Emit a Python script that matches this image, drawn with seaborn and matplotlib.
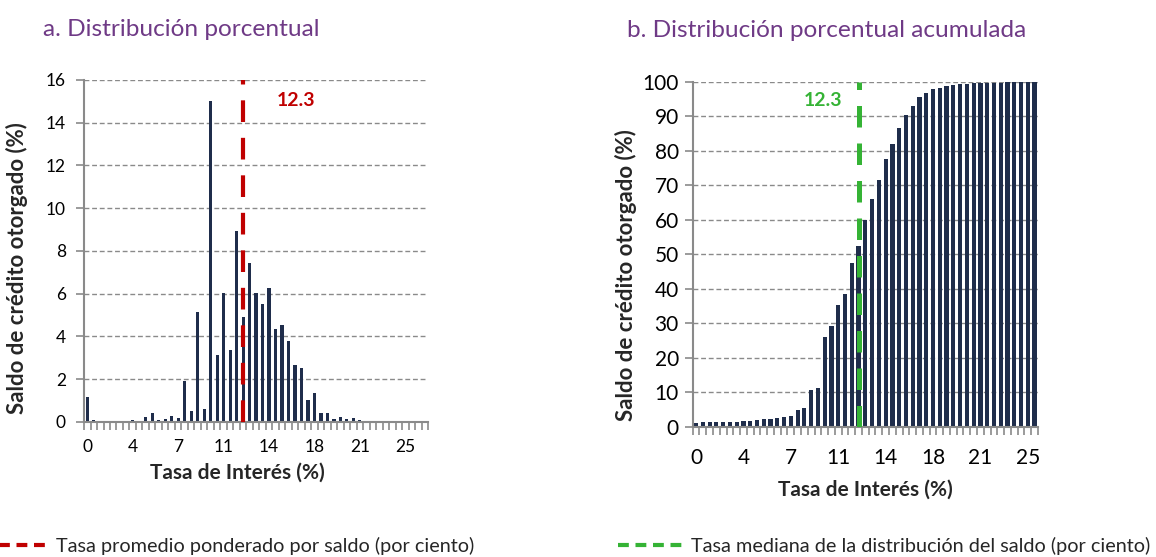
import numpy as np
import pandas as pd
import matplotlib
matplotlib.use("Agg")
import matplotlib.pyplot as plt
from matplotlib.lines import Line2D
import seaborn as sns

# --- data ---
# interest-rate bins (0.5 pp wide)
tasas_a = [0, 0.5, 1, 1.5, 2, 2.5, 3, 3.5, 4, 4.5, 5, 5.5, 6, 6.5, 7, 7.5, 8, 8.5,
           9, 9.5, 10, 10.5, 11, 11.5, 12, 12.5, 13, 13.5, 14, 14.5, 15, 15.5, 16,
           16.5, 17, 17.5, 18, 18.5, 19, 19.5, 20, 20.5, 21, 21.5, 22, 22.5, 23,
           23.5, 24, 24.5, 25, 25.5, 26]
pct_a = [1.15, 0.11, 0.05, 0.03, 0.03, 0.03, 0.05, 0.10, 0.06, 0.25, 0.40, 0.11,
         0.14, 0.28, 0.19, 1.93, 0.50, 5.13, 0.59, 15.00, 3.14, 6.03, 3.36, 8.93,
         4.91, 7.43, 6.02, 5.52, 6.25, 4.37, 4.53, 3.81, 2.67, 2.53, 1.04, 1.35,
         0.40, 0.44, 0.16, 0.25, 0.12, 0.19, 0.08, 0.04, 0.06, 0.02, 0.05, 0.03,
         0.02, 0.01, 0.01, 0.01, 0.01]

tasas_b = tasas_a[:51]
pct_b = [1.15, 1.26, 1.31, 1.34, 1.37, 1.40, 1.45, 1.55, 1.61, 1.86,
         2.26, 2.37, 2.51, 2.79, 2.98, 4.91, 5.41, 10.54, 11.13, 26.1,
         29.3, 35.3, 38.6, 47.6, 52.5, 59.9, 66.0, 71.5, 77.7, 82.1,
         86.6, 90.4, 93.1, 95.6, 96.7, 98.0, 98.4, 98.9, 99.0, 99.3,
         99.4, 99.6, 99.7, 99.7, 99.8, 99.8, 99.9, 99.9, 99.9, 100.0, 100.0]

xtick_labels = ["0", "4", "7", "11", "14", "18", "21", "25"]
tasa_promedio = 12.3
tasa_mediana = 12.3

titulo_a = "a. Distribución porcentual"
titulo_b = "b. Distribución porcentual acumulada"
ylabel = "Saldo de crédito otorgado (%)"
xlabel = "Tasa de Interés (%)"
leyenda_a = "Tasa promedio ponderado por saldo (por ciento)"
leyenda_b = "Tasa mediana de la distribución del saldo (por ciento)"

NAVY = "#1f2d4b"
RED = "#c00000"
GREEN = "#35b335"
PURPLE = "#6f3a86"
GRAY = "#8a8a8a"

sns.set_theme(style="white")
plt.rcParams["font.family"] = ["Lato", "DejaVu Sans"]

fig = plt.figure(figsize=(11.56, 5.57), dpi=100)
ax_a = fig.add_axes([0.0727, 0.2424, 0.2976, 0.6140])
ax_b = fig.add_axes([0.5992, 0.2339, 0.2987, 0.6189])


def style_axis(ax, n, ymax, ystep, tick_fs, xpad, ypad):
    ax.set_xlim(-0.5, n - 0.5)
    ax.set_ylim(0, ymax)
    ax.set_yticks(np.arange(0, ymax + ystep, ystep))
    ax.yaxis.grid(True, linestyle=(0, (3.5, 2)), color=GRAY, linewidth=1)
    ax.set_axisbelow(True)
    for s in ["top", "right"]:
        ax.spines[s].set_visible(False)
    for s in ["left", "bottom"]:
        ax.spines[s].set_color(GRAY)
        ax.spines[s].set_linewidth(1.5)
    # labels every 7th bin, tick marks between bins
    ax.set_xticks(np.arange(0, n, 7))
    ax.set_xticklabels(xtick_labels)
    ax.set_xticks(np.arange(-0.5, n, 1), minor=True)
    ax.tick_params(axis="x", which="major", length=0, pad=xpad, labelsize=tick_fs, colors="black")
    ax.tick_params(axis="x", which="minor", length=6, width=1.2, color=GRAY, bottom=True)
    ax.tick_params(axis="y", length=6, width=1.2, color=GRAY, left=True, pad=ypad,
                   labelsize=tick_fs, labelcolor="black")
    ax.set_xlabel(xlabel, fontsize=15, fontweight="bold")
    ax.set_ylabel(ylabel, fontsize=16, fontweight="bold")


# --- a. distribution ---
df_a = pd.DataFrame({"tasa": [str(t) for t in tasas_a], "pct": pct_a})
sns.barplot(data=df_a, x="tasa", y="pct", color=NAVY, saturation=1, width=0.48,
            linewidth=0, ax=ax_a)
style_axis(ax_a, len(tasas_a), 16, 2, 12.5, 12, 7)
ax_a.xaxis.set_label_coords(0.445, -0.12)
ax_a.yaxis.set_label_coords(-0.163, 0.45)
pos_a = tasas_a.index(12)
ax_a.plot([pos_a, pos_a], [0, 16], color=RED, linewidth=3, dashes=(5.2, 3.8),
          solid_capstyle="butt", dash_capstyle="butt", zorder=5)
ax_a.text(32.2, 15.05, f"{tasa_promedio:.1f}", color=RED, fontsize=14, fontweight="bold",
          ha="center", va="center")
ax_a.set_title(titulo_a, color=PURPLE, fontsize=17.6, loc="left", x=-0.12, y=1.105)

# --- b. cumulative distribution ---
df_b = pd.DataFrame({"tasa": [str(t) for t in tasas_b], "pct": pct_b})
sns.barplot(data=df_b, x="tasa", y="pct", color=NAVY, saturation=1, width=0.62,
            linewidth=0, ax=ax_b)
style_axis(ax_b, len(tasas_b), 100, 10, 15, 15, 4)
ax_b.xaxis.set_label_coords(0.499, -0.155)
ax_b.yaxis.set_label_coords(-0.161, 0.44)
pos_b = tasas_b.index(12)
ax_b.plot([pos_b, pos_b], [0, 100], color=GREEN, linewidth=3.6, dashes=(4.3, 3.2),
          solid_capstyle="butt", dash_capstyle="butt", zorder=5)
ax_b.text(18.7, 94.6, f"{tasa_mediana:.1f}", color=GREEN, fontsize=14, fontweight="bold",
          ha="center", va="center")
ax_b.set_title(titulo_b, color=PURPLE, fontsize=17.6, loc="left", x=-0.19, y=1.105)

# --- legends at the bottom ---
h_a = Line2D([], [], color=RED, linewidth=3, dashes=(2.6, 1.6), dash_capstyle="butt")
h_b = Line2D([], [], color=GREEN, linewidth=3, dashes=(2.6, 1.6), dash_capstyle="butt")
fig.legend(handles=[h_a], labels=[leyenda_a], loc="center left",
           bbox_to_anchor=(-16 / 1156, 1 - 546 / 557), frameon=False, fontsize=14.3,
           handlelength=3.1, handletextpad=0.55, borderpad=0, borderaxespad=0)
fig.legend(handles=[h_b], labels=[leyenda_b], loc="center left",
           bbox_to_anchor=(618 / 1156, 1 - 546 / 557), frameon=False, fontsize=14.3,
           handlelength=3.2, handletextpad=0.5, borderpad=0, borderaxespad=0)

fig.savefig("out.png", dpi=100)
